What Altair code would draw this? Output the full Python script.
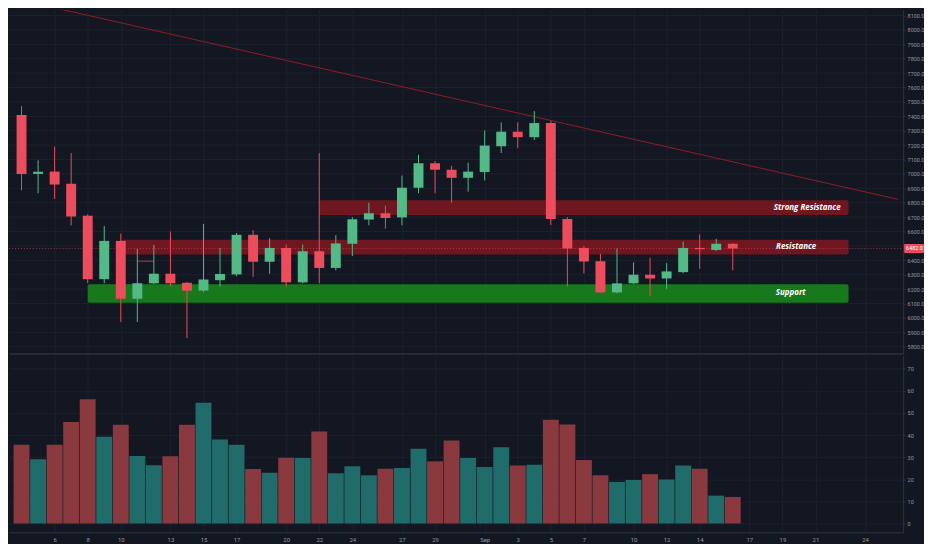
import altair as alt
import pandas as pd

# ---------------- data ----------------
dates = [
    "2018-08-04", "2018-08-05", "2018-08-06", "2018-08-07", "2018-08-08", "2018-08-09",
    "2018-08-10", "2018-08-11", "2018-08-12", "2018-08-13", "2018-08-14", "2018-08-15",
    "2018-08-16", "2018-08-17", "2018-08-18", "2018-08-19", "2018-08-20", "2018-08-21",
    "2018-08-22", "2018-08-23", "2018-08-24", "2018-08-25", "2018-08-26", "2018-08-27",
    "2018-08-28", "2018-08-29", "2018-08-30", "2018-08-31", "2018-09-01", "2018-09-02",
    "2018-09-03", "2018-09-04", "2018-09-05", "2018-09-06", "2018-09-07", "2018-09-08",
    "2018-09-09", "2018-09-10", "2018-09-11", "2018-09-12", "2018-09-13", "2018-09-14",
    "2018-09-15", "2018-09-16",
]
opens = [7409, 7000, 7016, 6931, 6710, 6269, 6535, 6133, 6240, 6307, 6244, 6190,
         6262, 6302, 6577, 6390, 6486, 6247, 6463, 6347, 6515, 6683, 6727, 6698,
         6904, 7074, 7029, 6973, 7013, 7192, 7293, 7255, 7353, 6687, 6486, 6394,
         6177, 6240, 6300, 6274, 6318, 6486, 6472, 6515]
highs = [7470, 7094, 7190, 7145, 6720, 6638, 6586, 6479, 6508, 6600, 6250, 6653,
         6486, 6590, 6610, 6553, 6510, 6510, 7145, 6575, 6700, 6799, 6780, 6989,
         7134, 7089, 7056, 7078, 7302, 7358, 7358, 7436, 7369, 6700, 6500, 6445,
         6482, 6385, 6419, 6380, 6530, 6580, 6550, 6520]
lows = [6886, 6866, 6826, 6642, 6242, 6242, 5972, 5972, 6235, 6220, 5860, 6180,
        6217, 6290, 6285, 6307, 6217, 6240, 6240, 6330, 6430, 6643, 6620, 6643,
        6866, 6866, 6799, 6877, 6955, 7145, 7179, 7235, 6645, 6217, 6309, 6177,
        6170, 6235, 6150, 6200, 6310, 6341, 6465, 6330]
closes = [7000, 7015, 6926, 6705, 6269, 6535, 6133, 6240, 6307, 6240, 6189, 6267,
          6305, 6577, 6390, 6486, 6247, 6463, 6347, 6517, 6685, 6727, 6694, 6904,
          7074, 7029, 6973, 7016, 7197, 7293, 7255, 7353, 6687, 6482, 6392, 6177,
          6240, 6300, 6274, 6323, 6486, 6477, 6515, 6482]
volumes = [35.6, 29.1, 35.6, 45.9, 56.2, 39.2, 44.7, 30.5, 26.3, 30.4, 44.7, 54.6,
           38.0, 35.6, 24.7, 23.0, 29.7, 29.6, 41.6, 22.7, 25.9, 21.8, 24.8, 25.1,
           33.8, 28.1, 37.5, 29.6, 25.6, 34.5, 26.2, 26.6, 46.9, 44.8, 28.7, 21.8,
           18.8, 19.7, 22.3, 19.9, 26.2, 24.8, 12.6, 12.0]

zone_names = ["Strong Resistance", "Resistance", "Support"]
zone_start = ["2018-08-22", "2018-08-10", "2018-08-08"]
zone_end = ["2018-09-23", "2018-09-23", "2018-09-23"]
zone_low = [6714, 6441, 6106]
zone_high = [6817, 6542, 6233]
zone_label_date = ["2018-09-20T12:00:00", "2018-09-19T20:00:00", "2018-09-19T12:00:00"]

trend_dates = ["2018-08-05", "2018-09-26"]
trend_prices = [8180, 6823]

marker_dates = ["2018-08-11", "2018-08-12"]
marker_price = [6394, 6394]

price_grid = [5800, 5900, 6000, 6100, 6200, 6300, 6400, 6500, 6600, 6700, 6800, 6900,
              7000, 7100, 7200, 7300, 7400, 7500, 7600, 7700, 7800, 7900, 8000, 8100]
# 6500.0 is hidden behind the last-price badge in the reference
price_labels = [5800, 5900, 6000, 6100, 6200, 6300, 6400, 6600, 6700, 6800, 6900,
                7000, 7100, 7200, 7300, 7400, 7500, 7600, 7700, 7800, 7900, 8000, 8100]
volume_ticks = [0, 10, 20, 30, 40, 50, 60, 70]
date_ticks = ["2018-08-06", "2018-08-08", "2018-08-10", "2018-08-13", "2018-08-15",
              "2018-08-17", "2018-08-20", "2018-08-22", "2018-08-24", "2018-08-27",
              "2018-08-29", "2018-09-01", "2018-09-03", "2018-09-05", "2018-09-07",
              "2018-09-10", "2018-09-12", "2018-09-14", "2018-09-17", "2018-09-19",
              "2018-09-21", "2018-09-24"]

# ---------------- tables ----------------
df = pd.DataFrame({"date": dates, "open": opens, "high": highs, "low": lows,
                   "close": closes, "volume": volumes})

zones = pd.DataFrame({"name": zone_names, "start": zone_start, "end": zone_end,
                      "low": zone_low, "high": zone_high, "label_date": zone_label_date})
zones["mid"] = (zones["low"] + zones["high"]) / 2

trend = pd.DataFrame({"date": trend_dates, "price": trend_prices})
marker = pd.DataFrame({"date": marker_dates, "price": marker_price})
pgrid = pd.DataFrame({"price": price_grid})

last_close = closes[-1]
last = pd.DataFrame({"price": [last_close], "lo": [last_close - 32], "hi": [last_close + 32],
                     "label": [f"{last_close:.1f}"]})

# ---------------- style ----------------
BG = "#131722"
UP = "#53b987"
DOWN = "#eb4d5c"
VOL_UP = "#206c6a"
VOL_DOWN = "#8a3a3f"
ZONE_RED = "#6f1720"
ZONE_GREEN = "#17791b"
GRID = "#1d212d"
AXIS = "#2f3340"
LABEL = "#9598a1"
FONT = "Roboto"

W = 900


def dt(s):
    d, _, t = s.partition("T")
    y, m, dd = [int(v) for v in d.split("-")]
    h = int(t.split(":")[0]) if t else 0
    return alt.DateTime(year=y, month=m, date=dd, hours=h, utc=True)


x_scale = alt.Scale(type="utc", domain=[dt("2018-08-03T13:00:00"), dt("2018-09-26T00:00:00")])
tick_vals = [dt(s) for s in date_ticks]
label_expr = "utcdate(datum.value) == 1 ? utcFormat(datum.value, '%b') : utcFormat(datum.value, '%-d')"

p_scale = alt.Scale(domain=[5753, 8140], nice=False, zero=False)
is_up = "datum.close >= datum.open"
candle_color = alt.condition(is_up, alt.value(UP), alt.value(DOWN))
volume_color = alt.condition(is_up, alt.value(VOL_UP), alt.value(VOL_DOWN))
zone_color = alt.condition("datum.name == 'Support'", alt.value(ZONE_GREEN), alt.value(ZONE_RED))

x_price_axis = alt.Axis(values=tick_vals, labels=False, ticks=False, domain=True,
                        domainColor="#3a3e4a", grid=True, gridColor=GRID)
y_price_axis = alt.Axis(orient="right", values=price_labels, format=".1f", grid=False,
                        tickSize=2, tickColor=AXIS, domainColor=AXIS,
                        labelPadding=2, labelOverlap=False)


def px(field):
    return alt.X(field, type="temporal", scale=x_scale, axis=x_price_axis, title=None)


def py(field):
    return alt.Y(field, type="quantitative", scale=p_scale, axis=y_price_axis, title=None)


base = alt.Chart(df)

grid_layer = alt.Chart(pgrid).mark_rule(color=GRID, strokeWidth=1).encode(
    y=py("price"), x=alt.value(0), x2=alt.value(W))

zone_layer = alt.Chart(zones).mark_rect(cornerRadius=2).encode(
    x=px("start"), x2="end:T", y=py("low"), y2="high:Q", color=zone_color)

zone_text = alt.Chart(zones).mark_text(font="Open Sans", fontSize=8, fontWeight="bold",
                                       fontStyle="italic", color="#ffffff").encode(
    x=px("label_date"), y=py("mid"), text="name:N")

trend_layer = alt.Chart(trend).mark_line(color="#8f1c26", strokeWidth=1, clip=True).encode(
    x=px("date"), y=py("price"))

marker_layer = alt.Chart(marker).mark_line(color="#c0303c", strokeWidth=1).encode(
    x=px("date"), y=py("price"))

last_line = alt.Chart(last).mark_rule(color=DOWN, strokeWidth=1, strokeDash=[1, 2],
                                      opacity=0.6).encode(
    y=py("price"), x=alt.value(0), x2=alt.value(W))

wick = base.mark_rule(strokeWidth=1).encode(
    x=px("date"), y=py("low"), y2="high:Q", color=candle_color)

body = base.mark_bar(size=10).encode(
    x=px("date"), y=py("open"), y2="close:Q", color=candle_color)

last_box = alt.Chart(last).mark_rect(color=DOWN, clip=False, cornerRadius=1).encode(
    x=alt.value(W + 1), x2=alt.value(W + 21), y=py("lo"), y2="hi:Q")
last_text = alt.Chart(last).mark_text(color="#ffffff", fontSize=5.5, font=FONT, align="left",
                                      clip=False).encode(
    x=alt.value(W + 3), y=py("price"), text="label:N")

price_chart = alt.layer(
    grid_layer, zone_layer, trend_layer, marker_layer, last_line, wick, body,
    zone_text, last_box, last_text,
).properties(width=W, height=346)

volume_chart = alt.Chart(df).mark_bar(size=16).encode(
    x=alt.X("date:T", scale=x_scale, title=None,
            axis=alt.Axis(values=tick_vals, labelExpr=label_expr, grid=True, gridColor=GRID,
                          ticks=False, domainColor=AXIS, labelPadding=4, labelFontSize=6,
                          labelOverlap=False)),
    y=alt.Y("volume:Q", title=None, scale=alt.Scale(domain=[-4, 76], nice=False, zero=False),
            axis=alt.Axis(orient="right", values=volume_ticks, grid=True, gridColor=GRID,
                          tickSize=2, tickColor=AXIS, domainColor=AXIS, labelPadding=2,
                          labelOverlap=False)),
    color=volume_color,
).properties(width=W, height=178)

chart = alt.vconcat(price_chart, volume_chart, spacing=2).properties(
    background=BG, padding={"left": 0, "top": 0, "right": 0, "bottom": 0}
).configure_view(stroke=None).configure_axis(
    labelColor=LABEL, labelFont=FONT, labelFontSize=5.5, domainWidth=1,
).resolve_scale(x="shared")

chart.save("out.html", embed_options={"renderer": "svg", "actions": False})
